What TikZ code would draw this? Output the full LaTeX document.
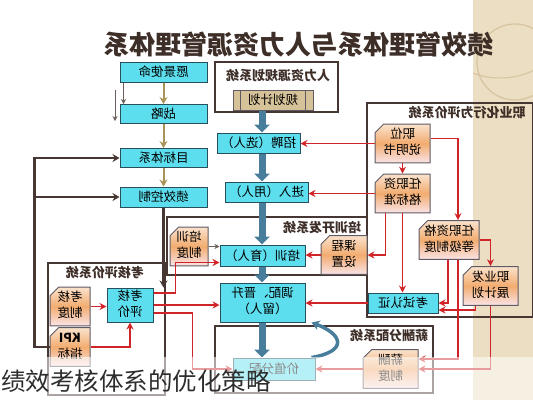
\documentclass[tikz,border=0pt]{standalone}
\usepackage{fontspec}
\usepackage{graphicx}
\setmainfont{Noto Sans CJK SC}
\usetikzlibrary{shapes.misc,arrows.meta}
\definecolor{boxcyan}{RGB}{92,222,238}
\definecolor{boxline}{RGB}{40,80,92}
\definecolor{docline}{RGB}{95,90,100}
\definecolor{arrred}{RGB}{208,36,40}
\definecolor{khaki}{RGB}{168,148,88}
\definecolor{darkbrown}{RGB}{70,55,50}
\definecolor{steel}{RGB}{72,126,156}
\definecolor{stripbg}{RGB}{236,222,194}
\definecolor{stripline}{RGB}{214,196,160}
\definecolor{titlecol}{RGB}{62,46,40}
\definecolor{tanbox}{RGB}{214,194,152}
\definecolor{docA}{RGB}{250,226,205}
\definecolor{docB}{RGB}{242,172,112}
\definecolor{docC}{RGB}{250,228,232}
\definecolor{capgray}{RGB}{45,45,45}
\newcommand{\flip}[1]{\reflectbox{\begin{tabular}{@{}c@{}}#1\end{tabular}}}
\renewcommand{\arraystretch}{1.05}

\begin{document}
\begin{tikzpicture}[x=1pt,y=-1pt]
\tikzstyle{mybox} = [rectangle, draw=boxline, fill=boxcyan, line width=1pt, inner sep=0pt, text=black, font=\fontsize{12.5}{15}\selectfont]
\tikzstyle{mydoc} = [chamfered rectangle, chamfered rectangle corners=north west, chamfered rectangle xsep=5pt, draw=docline, line width=1pt, inner sep=0pt, top color=docA, bottom color=docC, middle color=docB, text=black, font=\fontsize{12.5}{15}\selectfont]
\tikzstyle{mysys} = [draw=darkbrown, line width=1.8pt]
\tikzstyle{mytitle} = [inner sep=0pt, text=titlecol, font=\fontsize{13}{15}\selectfont\bfseries]
\tikzstyle{redline} = [draw=arrred, line width=1.7pt, -{Stealth[length=7pt,width=7pt]}]
\tikzstyle{khakiline} = [draw=khaki, line width=2pt, -{Stealth[length=7pt,width=8pt]}]
\tikzstyle{darkline} = [draw=darkbrown, line width=2.1pt, -{Stealth[length=7pt,width=8pt]}]
\tikzstyle{thinline} = [draw=darkbrown!80, line width=0.8pt, -{Stealth[length=5pt,width=5pt]}]
\tikzstyle{mainarrow} = [draw=steel, line width=7pt, -{Triangle[length=8pt,width=15pt]}]
\useasboundingbox (0,0) rectangle (533,400);

\fill[stripbg] (473,0) rectangle (533,400);
\begin{scope}
\clip (473,0) rectangle (533,400);
\draw[stripline, line width=1.2pt] (515,62) circle (38);
\draw[stripline, line width=1pt] (500,0) circle (78);
\end{scope}

\node[font=\fontsize{26}{28}\selectfont\bfseries, text=titlecol] (title) at (298,45) {\reflectbox{绩效管理体系与人力资源管理体系}};

\draw[mysys] (215,62) rectangle (338,112);
\node[mytitle] (rlghT) at (278,76) {\reflectbox{人力资源规划系统}};
\draw[mysys] (167,217) rectangle (367,275);
\node[mytitle] (pxkfT) at (322,228) {\reflectbox{培训开发系统}};
\draw[mysys] (367,103) rectangle (533,317);
\node[mytitle] (zyhT) at (467,113) {\reflectbox{职业化行为评价系统}};
\draw[mysys] (48,263) rectangle (165,395);
\node[mytitle] (khxtT) at (105,273) {\reflectbox{考核评价系统}};
\draw[mysys] (215,326) rectangle (433,393);
\node[mytitle] (xcfpT) at (389,336) {\reflectbox{薪酬分配系统}};

\node[mybox, minimum width=87, minimum height=20] (yjsm) at (163.5,72) {\reflectbox{愿景使命}};
\node[mybox, minimum width=87, minimum height=19] (zl) at (163.5,114) {\reflectbox{战略}};
\node[mybox, minimum width=87, minimum height=19] (mbtx) at (163.5,158) {\reflectbox{目标体系}};
\node[mybox, minimum width=87, minimum height=20] (jxkz) at (163.5,197) {\reflectbox{绩效控制}};

\node[rectangle, draw=docline, fill=tanbox, line width=1pt, minimum width=80, minimum height=20, inner sep=0pt, font=\fontsize{12.5}{15}\selectfont] (ghjh) at (273,100) {\reflectbox{规划计划}};
\draw[docline, line width=0.8pt] ([xshift=8pt]ghjh.north west) -- ([xshift=8pt]ghjh.south west);
\draw[docline, line width=0.8pt] ([xshift=-8pt]ghjh.north east) -- ([xshift=-8pt]ghjh.south east);

\node[mybox, minimum width=83, minimum height=20] (zp) at (258.5,143) {\reflectbox{招聘（选人）}};
\node[mybox, minimum width=83, minimum height=20] (jr) at (266.5,192) {\reflectbox{进入（用人）}};
\node[mybox, minimum width=85, minimum height=21] (px) at (262.5,255.5) {\reflectbox{培训（育人）}};
\node[mybox, minimum width=85, minimum height=39] (dp) at (262.5,302.5) {\flip{调配、晋升\\（留人）}};
\node[mybox, minimum width=82, minimum height=22] (jzfp) at (274,369) {\reflectbox{价值分配}};
\node[mybox, minimum width=70, minimum height=20] (kszr) at (403,303) {\reflectbox{考试认证}};
\node[mybox, minimum width=46, minimum height=34] (khpj) at (130,305) {\flip{考核\\评价}};

\node[mydoc, minimum width=55, minimum height=37] (zwsms) at (402.5,143.5) {\flip{职位\\说明书}};
\node[mydoc, minimum width=55, minimum height=37] (rzbz) at (402.5,193.5) {\flip{任职资\\格标准}};
\node[mydoc, minimum width=54, minimum height=37] (rzdj) at (449,240) {\flip{任职资格\\等级制度}};
\node[mydoc, minimum width=55, minimum height=38] (zyfz) at (490.5,286) {\flip{职业发\\展计划}};
\node[mydoc, minimum width=46, minimum height=36] (kcsz) at (344,255) {\flip{课程\\设置}};
\node[mydoc, minimum width=38, minimum height=33] (pxzd) at (189,246.5) {\flip{培训\\制度}};
\node[mydoc, minimum width=40, minimum height=37] (khzd) at (70,306.5) {\flip{考核\\制度}};
\node[mydoc, minimum width=40, minimum height=36] (kpi) at (70,347) {\flip{\textbf{KPI}\\指标}};
\node[mydoc, minimum width=55, minimum height=38] (xczd) at (390.5,369) {\flip{薪酬\\制度}};

\coordinate (axis) at (262,0);
\draw[mainarrow] (ghjh.south -| axis) -- (zp.north -| axis);
\draw[mainarrow] (zp.south -| axis) -- (jr.north -| axis);
\draw[mainarrow] (jr.south -| axis) -- (px.north -| axis);
\draw[mainarrow] (px.south -| axis) -- (dp.north -| axis);
\draw[mainarrow] (dp.south -| axis) -- (jzfp.north -| axis);
\draw[draw=steel, line width=3.5pt, -{Stealth[length=8pt,width=10pt]}] ([xshift=-4pt]jzfp.north east) .. controls +(36,-6) and +(32,12) .. ([xshift=6pt]dp.south east);

\draw[khakiline] (yjsm) -- (zl);
\draw[khakiline] (zl) -- (mbtx);
\draw[khakiline] (mbtx) -- (jxkz);
\draw[thinline] ([xshift=-40pt]yjsm.south) -- ([xshift=-40pt]zl.north);
\coordinate (t1) at (115,90);
\coordinate (t2) at (115,121);
\draw[thinline] (t1) -- (t2);

\draw[darkline] (kpi.west) -- ++(-15,0) coordinate (lc) |- (mbtx.west);
\draw[darkline] (lc |- jxkz.west) -- (jxkz.west);
\draw[darkline] (jxkz.south) -- (jxkz.south |- khpj.north);

\draw[redline] (zwsms.west) -- (zwsms.west -| zp.east);
\draw[redline] (rzbz.west) -- (rzbz.west -| jr.east);
\draw[redline] (zwsms.south) -- (rzbz.north);
\draw[redline] ([yshift=5pt]zwsms.east) -| ([xshift=9pt]rzdj.north);
\draw[redline] (rzdj.east) -| (zyfz.north);
\draw[redline] ([xshift=-17pt]rzbz.south) |- (kcsz.east);
\draw[redline] (rzbz.south) -- (rzbz.south |- kszr.north);
\draw[redline] ([xshift=-1pt]rzdj.south) |- (kszr.east);
\draw[redline] ([xshift=-15pt]zyfz.south) |- ([yshift=-7pt]kszr.east);
\draw[redline] ([xshift=9pt]rzdj.south) |- ([yshift=10pt]xczd.east);
\draw[redline] (zyfz.south) |- (xczd.east);
\draw[redline] (xczd.west) -- (xczd.west -| jzfp.east);
\draw[redline] (kszr.west) -- (kszr.west -| dp.east);
\draw[redline] (kcsz.west) -- (kcsz.west -| px.east);
\draw[thinline] (pxzd.east) -- (pxzd.east -| px.west);
\draw[redline] (khzd.east) -- (khzd.east -| khpj.west);
\draw[redline] (kpi.east) -| (khpj.south);
\draw[redline] ([yshift=12pt]khpj.east) -- ++(22,0) |- ([yshift=-7pt]px.west);
\draw[redline] (khpj.east) -- (khpj.east -| dp.west);
\draw[redline] ([yshift=-8pt]khpj.east) -- ++(39,0) |- (jzfp.west);

\fill[white, opacity=0.55] (0,357) rectangle (533,400);
\node[anchor=west, inner sep=1pt, text=capgray, font=\fontsize{24.5}{26}\selectfont] (cap) at (0,381) {绩效考核体系的优化策略};
\end{tikzpicture}
\end{document}
